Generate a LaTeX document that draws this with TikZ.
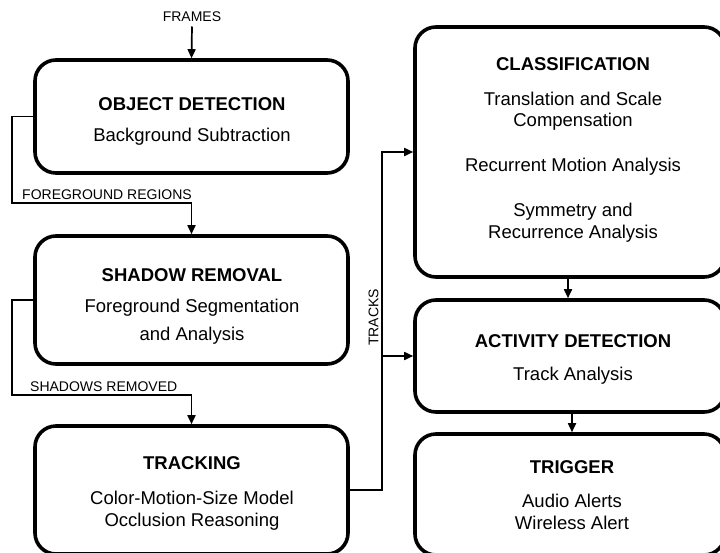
\documentclass[tikz,border=0pt]{standalone}
\usepackage{fontspec}
\setmainfont{Liberation Sans}
\usetikzlibrary{arrows.meta}
\tikzset{
  box/.style={draw=black, line width=3.6pt, rounded corners=21pt, inner sep=0pt, fill=white},
  ttl/.style={anchor=base, inner sep=0pt, font=\fontsize{18.5}{22}\selectfont\bfseries},
  txt/.style={anchor=base, inner sep=0pt, font=\fontsize{18.5}{22}\selectfont},
  lbl/.style={anchor=base, inner sep=0pt, font=\fontsize{14}{16}\selectfont},
  ln/.style={line width=1.7pt},
  arr/.style={line width=1.7pt, -{Triangle[length=9pt,width=8pt]}},
}
\begin{document}
\begin{tikzpicture}[x=1pt,y=-1pt]
\useasboundingbox (0,0) rectangle (720,552);
\clip (0,0) rectangle (720,552);
% boxes
\node[box, minimum width=313pt, minimum height=113pt] (od) at (191.5,116.5) {};
\node[box, minimum width=313pt, minimum height=128pt] (sr) at (191.5,300) {};
\node[box, minimum width=313pt, minimum height=128pt] (tr) at (191.5,490) {};
\node[box, minimum width=310pt, minimum height=250pt] (cl) at (570,152) {};
\node[box, minimum width=310pt, minimum height=112pt] (ad) at (570,356) {};
\node[box, minimum width=310pt, minimum height=121pt] (tg) at (570,494.5) {};
% texts
\node[ttl] (odT) at (192,110) {OBJECT DETECTION};
\node[txt] (odS) at (192,141.7) {Background Subtraction};
\node[ttl] (srT) at (192,281.7) {SHADOW REMOVAL};
\node[txt] (srS1) at (192,312.7) {Foreground Segmentation};
\node[txt] (srS2) at (192,340) {and Analysis};
\node[ttl] (trT) at (192,469.3) {TRACKING};
\node[txt] (trS1) at (192,504.5) {Color-Motion-Size Model};
\node[txt] (trS2) at (192,526) {Occlusion Reasoning};
\node[ttl] (clT) at (573,70.7) {CLASSIFICATION};
\node[txt] (clS1) at (573,105) {Translation and Scale};
\node[txt] (clS2) at (573,126.7) {Compensation};
\node[txt] (clS3) at (573,171.7) {Recurrent Motion Analysis};
\node[txt] (clS4) at (573,216.7) {Symmetry and};
\node[txt] (clS5) at (573,238.3) {Recurrence Analysis};
\node[ttl] (adT) at (573,347.3) {ACTIVITY DETECTION};
\node[txt] (adS) at (573,380) {Track Analysis};
\node[ttl] (tgT) at (572,473.3) {TRIGGER};
\node[txt] (tgS1) at (572,507.3) {Audio Alerts};
\node[txt] (tgS2) at (572,529) {Wireless Alert};
% labels
\node[lbl] (frames) at (192,21.7) {FRAMES};
\node[lbl, anchor=base west] (fgl) at (22,199.3) {FOREGROUND REGIONS};
\node[lbl, anchor=base west] (shl) at (30,391.7) {SHADOWS REMOVED};
\node[lbl, rotate=90, anchor=base] (tkl) at (378.3,317.5) {TRACKS};
% connectors
\coordinate (c1) at (12,203);
\coordinate (c2) at (12,395);
\coordinate (tk) at (382,0);
\draw[arr] (192,26.5) -- (od.north);
\draw[arr] (od.west) -| (c1) -| (sr.north);
\draw[arr] (sr.west) -| (c2) -| (tr.north);
\draw[arr] (tr.east) -| (tk |- cl.west) -- (cl.west);
\draw[arr] (tk |- ad.west) -- (ad.west);
\draw[arr] ([xshift=-2pt]cl.south) -- ([xshift=-2pt]ad.north);
\draw[arr] ([xshift=2pt]ad.south) -- ([xshift=2pt]tg.north);
\end{tikzpicture}
\end{document}
